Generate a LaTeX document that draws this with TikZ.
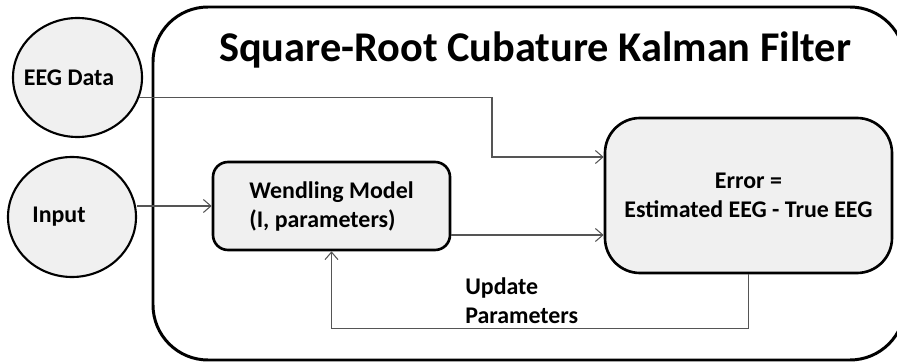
\documentclass[tikz,border=0pt]{standalone}
\usepackage{fontspec}
\setmainfont{Carlito}
\usetikzlibrary{shapes.geometric, arrows.meta}
\definecolor{boxgray}{RGB}{240,240,240}
\definecolor{linegray}{RGB}{85,85,85}

\begin{document}
\begin{tikzpicture}[
  txt/.style = {font=\bfseries\fontsize{13.6}{16.5}\selectfont},
  blob/.style = {ellipse, draw, line width=1.2pt, fill=boxgray, minimum width=2.58cm, minimum height=2.38cm},
  block/.style = {txt, draw, line width=1.5pt, fill=boxgray},
  flow/.style = {-{Straight Barb[length=1.5mm, width=2.6mm]}, draw=linegray, line width=0.6pt}
]
\useasboundingbox (0,0) rectangle (17.94,7.24);
\clip (0,0) rectangle (17.94,7.24);

% outer filter frame
\node[draw, line width=1.7pt, rounded corners=1.1cm, minimum width=15.04cm, minimum height=7.06cm] (ckf) at (10.58, 3.57) {};
\node[font=\bfseries\fontsize{24.1}{28}\selectfont, anchor=base] (title) at (10.70, 6.00) {Square-Root Cubature Kalman Filter};

% inputs
\node[blob, label={[txt, xshift=-0.17cm]center:EEG Data}] (eeg) at (1.55, 5.69) {};
\node[blob, minimum width=2.56cm, minimum height=2.40cm, label={[txt, xshift=-0.26cm]center:Input}] (inp) at (1.44, 2.90) {};

% blocks
\node[block, rounded corners=0.3cm, minimum width=4.74cm, minimum height=1.76cm, align=left] (wm) at (6.63, 3.12) {Wendling Model\\(I, parameters)};
\node[block, rounded corners=0.7cm, minimum width=5.74cm, minimum height=3.10cm, align=center] (err) at (14.97, 3.33) {Error =\\Estimated EEG - True EEG};
\node[txt, align=left, anchor=north west, inner sep=0pt] (upd) at (9.30, 1.70) {Update\\Parameters};

% connectors
\coordinate (bend) at (9.84, 4.10);
\draw[flow] (eeg.-18) -| (bend) -- (bend -| err.west);
\draw[flow] (inp.east |- wm.west) -- (wm.west);
\draw[flow] ([yshift=-0.58cm]wm.east) -- ([yshift=-0.58cm]wm.east -| err.west);
\draw[flow] (err.south) |- ([yshift=-1.54cm]wm.south) -- (wm.south);
\end{tikzpicture}
\end{document}
